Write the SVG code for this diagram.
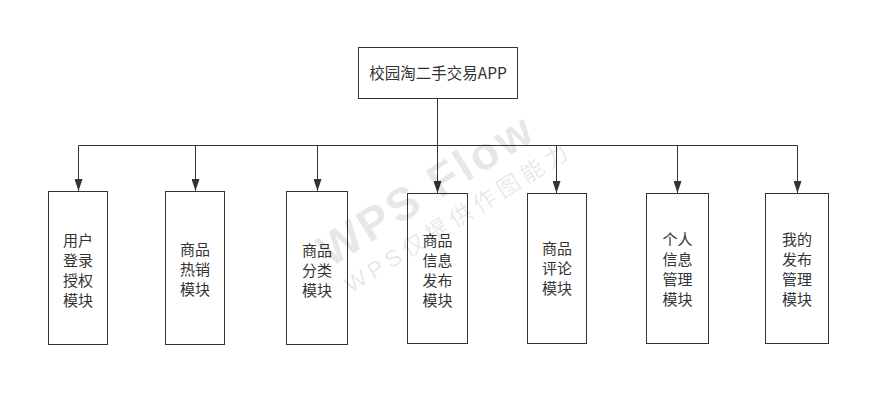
<svg xmlns="http://www.w3.org/2000/svg" width="890" height="406" viewBox="0 0 890 406">
<style>
.box{fill:#fff;stroke:#333;stroke-width:1}
.lbl{font-family:"Noto Sans CJK SC","Noto Sans",sans-serif;font-size:15px;fill:#333;text-anchor:middle}
.ttl{font-size:15.5px}
.ln{fill:none;stroke:#333;stroke-width:1}
.wm{font-family:"Liberation Sans","Noto Sans CJK SC",sans-serif;fill:#000;fill-opacity:0.1}
</style>
<defs>
<marker id="ah" viewBox="0 0 12 8" refX="12" refY="4" markerWidth="12" markerHeight="8" markerUnits="userSpaceOnUse" orient="auto">
<path d="M0,0 L12,4 L0,8 z" fill="#333"/>
</marker>
</defs>
<rect width="890" height="406" fill="#fff"/>
<g id="connectors">
<path class="ln" d="M437.5,98 V145.5"/>
<path class="ln" d="M78.5,145.5 H797.5"/>
<path class="ln" d="M78.5,145.5 V191" marker-end="url(#ah)"/>
<path class="ln" d="M195.5,145.5 V191" marker-end="url(#ah)"/>
<path class="ln" d="M317.5,145.5 V191" marker-end="url(#ah)"/>
<path class="ln" d="M437.5,145.5 V193" marker-end="url(#ah)"/>
<path class="ln" d="M556.5,145.5 V193" marker-end="url(#ah)"/>
<path class="ln" d="M677.5,145.5 V193" marker-end="url(#ah)"/>
<path class="ln" d="M797.5,145.5 V193" marker-end="url(#ah)"/>
</g>
<g id="root">
<rect class="box" x="358.5" y="47.5" width="159" height="51"/>
<text class="lbl ttl" x="438" y="78.5">校园淘二手交易APP</text>
</g>
<g id="n1">
<rect class="box" x="48.5" y="191.5" width="59" height="153"/>
<text class="lbl" x="78" y="245.5">用户</text>
<text class="lbl" x="78" y="265.5">登录</text>
<text class="lbl" x="78" y="285.5">授权</text>
<text class="lbl" x="78" y="305.5">模块</text>
</g>
<g id="n2">
<rect class="box" x="165.5" y="191.5" width="59" height="153"/>
<text class="lbl" x="195" y="254.5">商品</text>
<text class="lbl" x="195" y="274.5">热销</text>
<text class="lbl" x="195" y="294.5">模块</text>
</g>
<g id="n3">
<rect class="box" x="286.5" y="191.5" width="61" height="153"/>
<text class="lbl" x="317" y="255.5">商品</text>
<text class="lbl" x="317" y="275.5">分类</text>
<text class="lbl" x="317" y="295.5">模块</text>
</g>
<g id="n4">
<rect class="box" x="407.5" y="193.5" width="60" height="150"/>
<text class="lbl" x="437.5" y="245.5">商品</text>
<text class="lbl" x="437.5" y="265.5">信息</text>
<text class="lbl" x="437.5" y="285.5">发布</text>
<text class="lbl" x="437.5" y="305.5">模块</text>
</g>
<g id="n5">
<rect class="box" x="527.5" y="193.5" width="59" height="150"/>
<text class="lbl" x="557" y="254">商品</text>
<text class="lbl" x="557" y="274">评论</text>
<text class="lbl" x="557" y="294">模块</text>
</g>
<g id="n6">
<rect class="box" x="646.5" y="193.5" width="62" height="150"/>
<text class="lbl" x="677.5" y="244.5">个人</text>
<text class="lbl" x="677.5" y="264.5">信息</text>
<text class="lbl" x="677.5" y="284.5">管理</text>
<text class="lbl" x="677.5" y="304.5">模块</text>
</g>
<g id="n7">
<rect class="box" x="765.5" y="193.5" width="63" height="150"/>
<text class="lbl" x="797" y="244.5">我的</text>
<text class="lbl" x="797" y="264.5">发布</text>
<text class="lbl" x="797" y="284.5">管理</text>
<text class="lbl" x="797" y="304.5">模块</text>
</g>
<g id="watermark" transform="translate(330,268) rotate(-32)">
<text class="wm" x="0" y="0" font-size="46" font-weight="bold" letter-spacing="3">WPS Flow</text>
<text class="wm" x="4" y="33" font-size="23" letter-spacing="5">WPS仅提供作图能力</text>
</g>
</svg>
